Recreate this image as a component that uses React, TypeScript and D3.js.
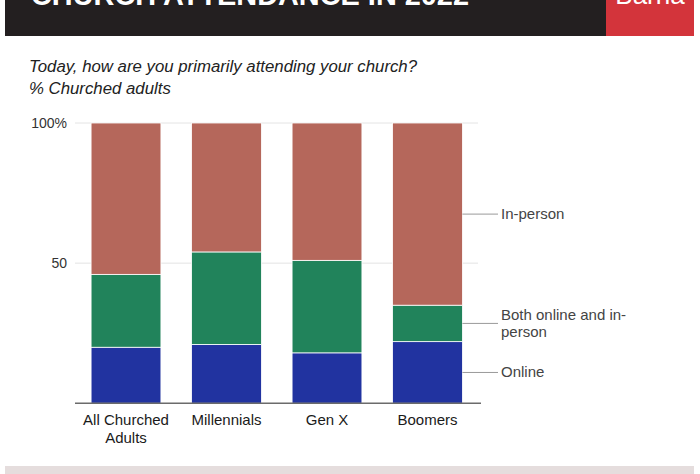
import React from "react";
import * as d3 from "d3";

const categories = ["All Churched Adults", "Millennials", "Gen X", "Boomers"];
const categoryLines = [["All Churched", "Adults"], ["Millennials"], ["Gen X"], ["Boomers"]];
const online = [20, 21, 18, 22];
const both = [26, 33, 33, 13];
const inPerson = [54, 46, 49, 65];
const seriesKeys = ["online", "both", "inPerson"];
const seriesLabels = [["Online"], ["Both online and in-", "person"], ["In-person"]];
const seriesColors = ["#2133a0", "#21835b", "#b5675b"];
const yTicks = [0, 50, 100];
const yTickLabels = ["", "50", "100%"];

const W = 700;
const H = 474;
const FONT = "'Liberation Sans', Arial, Helvetica, sans-serif";

export default function App() {
  const x = d3.scaleBand<string>().domain(categories).range([75, 478.5]).paddingInner(0.305).paddingOuter(0.16);
  const y = d3.scaleLinear().domain([0, 100]).range([403.3, 123]);
  const rows = categories.map((c, i) => ({ cat: c, online: online[i], both: both[i], inPerson: inPerson[i] }));
  const stacked = d3.stack<any>().keys(seriesKeys)(rows);
  const last = categories[categories.length - 1];
  const lastX = (x(last) ?? 0) + x.bandwidth();

  return (
    <svg width={W} height={H} style={{ position: "absolute", left: 0, top: 0, background: "#fff" }} fontFamily={FONT}>
      {/* header */}
      <rect x={5} y={0} width={601} height={36} fill="#231f20" />
      <rect x={606} y={0} width={88} height={36} fill="#d3343b" />
      <text x={31} y={5} fill="#fff" fontSize={30} fontWeight="bold" textLength={438} lengthAdjust="spacingAndGlyphs">
        CHURCH ATTENDANCE IN 2022
      </text>
      <text x={650} y={4} fill="#fff" fontSize={26} textAnchor="middle">Barna</text>

      {/* subtitle */}
      <text x={29} y={72} fontSize={16.8} fontStyle="italic" fill="#222">
        Today, how are you primarily attending your church?
      </text>
      <text x={29} y={94} fontSize={16.8} fontStyle="italic" fill="#222">% Churched adults</text>

      {/* gridlines */}
      {yTicks.filter((t) => t > 0).map((t) => (
        <line key={t} x1={75} x2={478} y1={y(t)} y2={y(t)} stroke="#e4e4e4" strokeWidth={1} />
      ))}
      {yTicks.map((t, i) => (
        <text key={"yl" + t} x={67} y={y(t) + 5} textAnchor="end" fontSize={14} fill="#333">
          {yTickLabels[i]}
        </text>
      ))}

      {/* bars */}
      {stacked.map((s, si) =>
        s.map((d: any, ci: number) => (
          <rect
            key={si + "-" + ci}
            x={x(categories[ci])}
            y={y(d[1])}
            width={x.bandwidth()}
            height={y(d[0]) - y(d[1])}
            fill={seriesColors[si]}
            stroke="#fff"
            strokeWidth={0.8}
          />
        ))
      )}

      {/* baseline */}
      <line x1={75} x2={481} y1={y(0)} y2={y(0)} stroke="#6b6b6b" strokeWidth={1.5} />

      {/* x labels */}
      {categories.map((c, i) => (
        <text key={c} x={(x(c) ?? 0) + x.bandwidth() / 2} textAnchor="middle" fontSize={15} fill="#1a1a1a">
          {categoryLines[i].map((ln, j) => (
            <tspan key={j} x={(x(c) ?? 0) + x.bandwidth() / 2} y={425 + j * 17.5}>{ln}</tspan>
          ))}
        </text>
      ))}

      {/* direct labels */}
      {stacked.map((s, si) => {
        const d: any = s[s.length - 1];
        const my = y((d[0] + d[1]) / 2);
        const lines = seriesLabels[si];
        const lh = 17.5;
        const y0 = my - ((lines.length - 1) * lh) / 2 + 5;
        return (
          <g key={"lab" + si}>
            <line x1={lastX} x2={498} y1={my} y2={my} stroke="#999" strokeWidth={1} />
            <text fontSize={15} fill="#444">
              {lines.map((ln, j) => (
                <tspan key={j} x={501} y={y0 + j * lh}>{ln}</tspan>
              ))}
            </text>
          </g>
        );
      })}

      {/* footer band */}
      <rect x={5} y={466} width={689} height={8} fill="#e5dddd" />
    </svg>
  );
}
